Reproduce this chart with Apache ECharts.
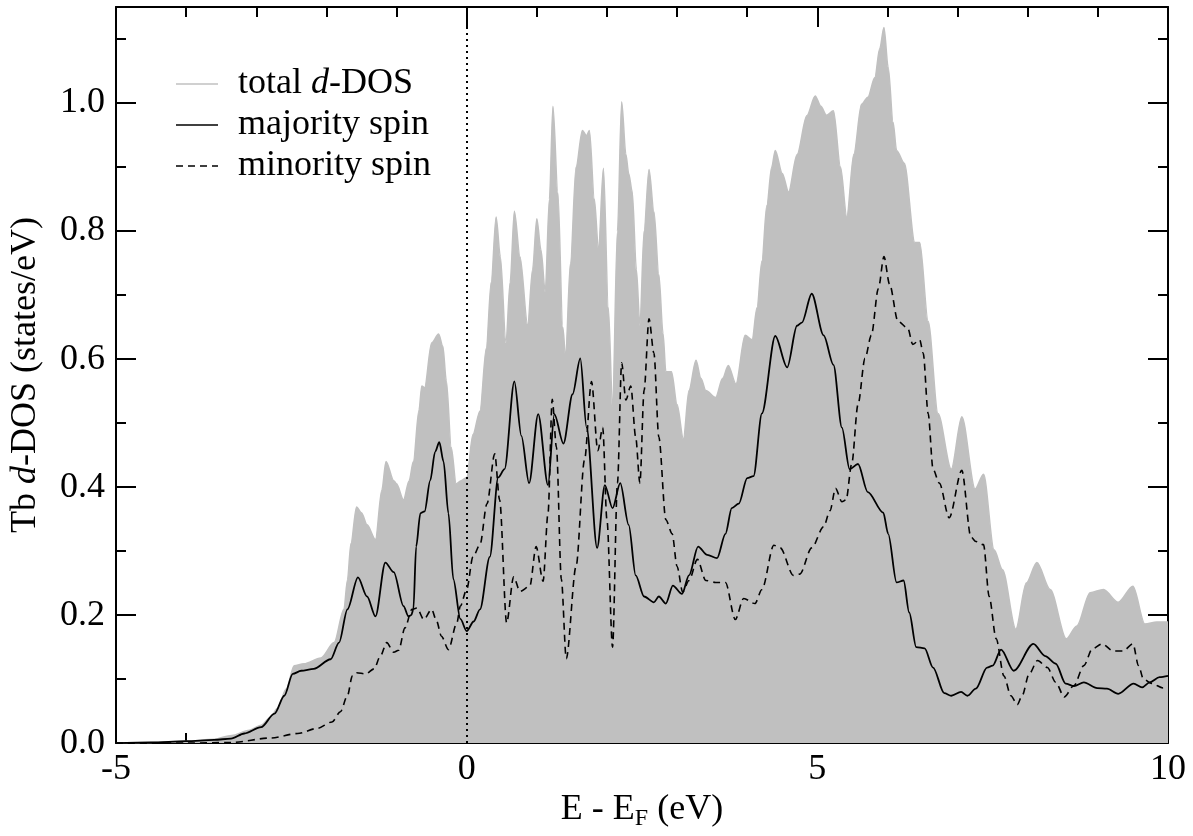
<!DOCTYPE html>
<html>
<head>
<meta charset="utf-8">
<script src="https://cdn.jsdelivr.net/npm/echarts@6/dist/echarts.min.js"></script>
<style>
    html, body { margin: 0; padding: 0; background: #fff; }
    #dos { width: 1193px; height: 836px; }
</style>
</head>
<body>
<div id="dos"></div>
<script>
// Tb d-DOS, [E - E_F (eV), states/eV]
const totalDos = [
    [-5.0, 0.0], [-4.5, 0.001], [-4.0, 0.003], [-3.6, 0.006], [-3.35, 0.012], [-3.1, 0.02],
    [-2.93, 0.028], [-2.8, 0.04], [-2.7, 0.054], [-2.57, 0.085], [-2.46, 0.121], [-2.32, 0.124],
    [-2.08, 0.133], [-1.89, 0.157], [-1.75, 0.209], [-1.7, 0.255], [-1.65, 0.312], [-1.57, 0.369],
    [-1.5, 0.36], [-1.42, 0.341], [-1.3, 0.318], [-1.21, 0.395], [-1.15, 0.44], [-1.04, 0.41],
    [-1.0, 0.405], [-0.9, 0.38], [-0.82, 0.41], [-0.76, 0.44], [-0.68, 0.52], [-0.64, 0.558],
    [-0.6, 0.555], [-0.5, 0.625], [-0.4, 0.639], [-0.34, 0.62], [-0.29, 0.566], [-0.22, 0.462],
    [-0.15, 0.405], [-0.08, 0.41], [0.0, 0.415], [0.09, 0.482], [0.19, 0.519], [0.28, 0.617],
    [0.35, 0.72], [0.42, 0.822], [0.48, 0.76], [0.56, 0.625], [0.62, 0.72], [0.68, 0.831],
    [0.76, 0.76], [0.87, 0.653], [0.94, 0.74], [1.0, 0.819], [1.06, 0.77], [1.12, 0.705],
    [1.18, 0.85], [1.23, 0.995], [1.3, 0.86], [1.37, 0.65], [1.41, 0.605], [1.48, 0.75],
    [1.56, 0.9], [1.65, 0.957], [1.71, 0.949], [1.75, 0.957], [1.82, 0.85], [1.88, 0.771],
    [1.95, 0.898], [2.02, 0.68], [2.08, 0.526], [2.15, 0.8], [2.21, 1.002], [2.27, 0.92],
    [2.31, 0.89], [2.36, 0.862], [2.42, 0.74], [2.47, 0.652], [2.53, 0.8], [2.6, 0.896],
    [2.67, 0.83], [2.74, 0.732], [2.8, 0.64], [2.84, 0.58], [2.92, 0.58], [3.0, 0.529],
    [3.09, 0.475], [3.17, 0.551], [3.27, 0.598], [3.34, 0.57], [3.41, 0.551], [3.55, 0.54],
    [3.65, 0.57], [3.73, 0.59], [3.84, 0.561], [3.97, 0.637], [4.07, 0.63], [4.14, 0.68],
    [4.21, 0.753], [4.28, 0.84], [4.35, 0.9], [4.4, 0.926], [4.5, 0.89], [4.59, 0.861],
    [4.71, 0.919], [4.85, 0.98], [4.97, 1.011], [5.05, 0.995], [5.13, 0.981], [5.23, 0.988],
    [5.33, 0.9], [5.42, 0.822], [5.52, 0.92], [5.63, 0.998], [5.72, 1.009], [5.82, 1.04],
    [5.89, 1.085], [5.95, 1.118], [6.01, 1.056], [6.08, 0.97], [6.13, 0.926], [6.24, 0.906],
    [6.39, 0.782], [6.46, 0.782], [6.58, 0.659], [6.72, 0.515], [6.91, 0.428], [7.06, 0.51],
    [7.25, 0.397], [7.37, 0.42], [7.52, 0.302], [7.64, 0.271], [7.83, 0.178], [7.98, 0.25],
    [8.13, 0.282], [8.32, 0.24], [8.55, 0.163], [8.7, 0.183], [8.89, 0.235], [9.08, 0.24],
    [9.29, 0.22], [9.5, 0.245], [9.67, 0.186], [9.84, 0.189], [10.0, 0.189]
];

const majoritySpin = [
    [-5.0, 0.0], [-4.5, 0.001], [-4.0, 0.003], [-3.6, 0.005], [-3.36, 0.007], [-3.17, 0.015],
    [-2.93, 0.025], [-2.74, 0.046], [-2.6, 0.074], [-2.48, 0.108], [-2.36, 0.113], [-2.18, 0.116],
    [-1.94, 0.131], [-1.82, 0.157], [-1.7, 0.209], [-1.55, 0.259], [-1.42, 0.229], [-1.3, 0.198],
    [-1.16, 0.282], [-1.04, 0.267], [-0.9, 0.214], [-0.83, 0.198], [-0.79, 0.2], [-0.76, 0.209],
    [-0.72, 0.307], [-0.66, 0.359], [-0.6, 0.362], [-0.52, 0.41], [-0.45, 0.455], [-0.39, 0.47],
    [-0.33, 0.44], [-0.26, 0.359], [-0.19, 0.256], [-0.09, 0.194], [0.0, 0.175], [0.1, 0.19],
    [0.19, 0.209], [0.33, 0.291], [0.45, 0.415], [0.54, 0.428], [0.68, 0.565], [0.78, 0.48],
    [0.89, 0.406], [1.02, 0.514], [1.16, 0.403], [1.25, 0.514], [1.38, 0.468], [1.51, 0.545],
    [1.62, 0.601], [1.71, 0.493], [1.86, 0.305], [1.97, 0.403], [2.08, 0.367], [2.19, 0.406],
    [2.31, 0.341], [2.41, 0.262], [2.53, 0.229], [2.67, 0.22], [2.74, 0.229], [2.84, 0.218],
    [2.94, 0.246], [3.07, 0.233], [3.17, 0.262], [3.3, 0.307], [3.43, 0.294], [3.57, 0.289],
    [3.69, 0.327], [3.78, 0.367], [3.88, 0.374], [4.0, 0.414], [4.09, 0.417], [4.21, 0.515],
    [4.4, 0.636], [4.57, 0.587], [4.71, 0.652], [4.78, 0.657], [4.92, 0.702], [5.09, 0.637],
    [5.23, 0.591], [5.35, 0.493], [5.46, 0.428], [5.58, 0.436], [5.72, 0.392], [5.94, 0.36],
    [6.01, 0.327], [6.13, 0.251], [6.23, 0.254], [6.31, 0.204], [6.41, 0.15], [6.53, 0.148],
    [6.65, 0.118], [6.81, 0.078], [6.91, 0.074], [7.05, 0.08], [7.14, 0.074], [7.26, 0.085],
    [7.42, 0.118], [7.5, 0.121], [7.62, 0.146], [7.8, 0.113], [8.08, 0.155], [8.25, 0.136],
    [8.4, 0.124], [8.54, 0.093], [8.66, 0.089], [8.8, 0.095], [8.99, 0.086], [9.13, 0.085],
    [9.29, 0.077], [9.51, 0.093], [9.63, 0.087], [9.74, 0.095], [9.88, 0.103], [10.0, 0.105]
];

const minoritySpin = [
    [-5.0, 0.0], [-4.0, 0.0], [-3.36, 0.001], [-2.79, 0.008], [-2.41, 0.015], [-2.13, 0.023],
    [-1.92, 0.033], [-1.8, 0.049], [-1.7, 0.074], [-1.63, 0.105], [-1.57, 0.11], [-1.44, 0.108],
    [-1.32, 0.116], [-1.23, 0.136], [-1.14, 0.157], [-1.04, 0.142], [-0.97, 0.145], [-0.88, 0.18],
    [-0.78, 0.209], [-0.71, 0.211], [-0.61, 0.193], [-0.5, 0.209], [-0.43, 0.191], [-0.36, 0.167],
    [-0.26, 0.146], [-0.14, 0.188], [-0.09, 0.214], [0.0, 0.24], [0.09, 0.291], [0.19, 0.31],
    [0.29, 0.374], [0.4, 0.452], [0.47, 0.38], [0.57, 0.188], [0.67, 0.26], [0.76, 0.237],
    [0.9, 0.245], [0.99, 0.307], [1.09, 0.253], [1.16, 0.359], [1.22, 0.537], [1.28, 0.462],
    [1.35, 0.256], [1.42, 0.132], [1.56, 0.276], [1.68, 0.442], [1.78, 0.565], [1.87, 0.457],
    [1.94, 0.493], [2.0, 0.349], [2.08, 0.15], [2.15, 0.406], [2.21, 0.594], [2.27, 0.536],
    [2.34, 0.558], [2.41, 0.478], [2.47, 0.406], [2.53, 0.551], [2.6, 0.663], [2.67, 0.609],
    [2.74, 0.478], [2.84, 0.349], [2.93, 0.327], [3.0, 0.276], [3.08, 0.236], [3.17, 0.254],
    [3.29, 0.287], [3.41, 0.254], [3.55, 0.251], [3.69, 0.251], [3.83, 0.193], [3.95, 0.226],
    [4.11, 0.218], [4.21, 0.24], [4.38, 0.309], [4.47, 0.305], [4.66, 0.262], [4.75, 0.264],
    [4.92, 0.305], [5.09, 0.338], [5.18, 0.363], [5.26, 0.398], [5.35, 0.377], [5.41, 0.38],
    [5.49, 0.436], [5.58, 0.529], [5.68, 0.601], [5.77, 0.637], [5.87, 0.71], [5.95, 0.76],
    [6.03, 0.717], [6.15, 0.659], [6.29, 0.648], [6.36, 0.623], [6.46, 0.63], [6.51, 0.609],
    [6.58, 0.515], [6.65, 0.428], [6.74, 0.406], [6.88, 0.352], [7.06, 0.426], [7.19, 0.322],
    [7.26, 0.315], [7.37, 0.31], [7.45, 0.229], [7.55, 0.163], [7.66, 0.105], [7.76, 0.074],
    [7.85, 0.06], [7.92, 0.074], [8.02, 0.108], [8.14, 0.129], [8.28, 0.118], [8.4, 0.095],
    [8.52, 0.072], [8.66, 0.09], [8.8, 0.121], [8.92, 0.147], [9.06, 0.155], [9.22, 0.144],
    [9.36, 0.144], [9.5, 0.155], [9.58, 0.121], [9.65, 0.1], [9.77, 0.093], [9.93, 0.086],
    [10.0, 0.085]
];

const seriesNames = ['total d-DOS', 'majority spin', 'minority spin'];
const xRange = [-5, 10];
const yRange = [0, 1.15];

const FONT = '"Liberation Serif", "DejaVu Serif", serif';
const txt = { fontFamily: FONT, fontSize: 36, color: '#000' };
const txtItalic = Object.assign({}, txt, { fontStyle: 'italic' });

// legend samples: thin solid bar / four dashes
const solidIcon = 'path://M0,0 H42 V1.6 H0 Z';
const dashIcon = 'path://M0,0 H7 V1.6 H0 Z M12,0 H19 V1.6 H12 Z M24,0 H31 V1.6 H24 Z M36,0 H42 V1.6 H36 Z';

// one helper so the four frame sides look the same
const frameAxis = (position, step, len, withLine) => ({
    type: 'value',
    position: position,
    min: yRange[0],
    max: yRange[1],
    interval: step,
    splitLine: { show: false },
    axisLine: { show: withLine, onZero: false, lineStyle: { color: '#000', width: 2 } },
    axisTick: { show: true, inside: true, length: len, lineStyle: { color: '#000', width: 2 } },
    axisLabel: { show: false }
});

const chart = echarts.init(document.getElementById('dos'), null, { renderer: 'canvas' });

const yLeft = frameAxis('left', 0.2, 20, true);
yLeft.axisLabel = Object.assign({}, txt, {
    show: true, showMaxLabel: false, margin: 11,
    formatter: v => v.toFixed(1)
});
yLeft.name = '{n|Tb }{i|d}{n|-DOS (states/eV)}';
yLeft.nameLocation = 'middle';
yLeft.nameRotate = 90;
yLeft.nameGap = 72;
yLeft.nameTextStyle = Object.assign({}, txt, { rich: { n: txt, i: txtItalic } });

const xBottom = {
    type: 'value',
    position: 'bottom',
    min: xRange[0],
    max: xRange[1],
    interval: 5,
    splitLine: { show: false },
    axisLine: { show: true, onZero: false, lineStyle: { color: '#000', width: 2 } },
    axisTick: { show: true, inside: true, length: 20, lineStyle: { color: '#000', width: 2 } },
    minorTick: { show: true, splitNumber: 5, length: 10, lineStyle: { color: '#000', width: 2 } },
    axisLabel: Object.assign({}, txt, { margin: 8, formatter: v => String(v) }),
    name: '{n|E - E}{s|F}{n| (eV)}',
    nameLocation: 'middle',
    nameGap: 45,
    nameTextStyle: Object.assign({}, txt, {
        rich: {
            n: txt,
            s: Object.assign({}, txt, { fontSize: 24, padding: [18, 0, 0, 0] })
        }
    })
};
const xTop = Object.assign({}, xBottom, {
    position: 'top',
    axisLabel: { show: false },
    name: ''
});

const option = {
    animation: false,
    backgroundColor: '#fff',
    textStyle: { fontFamily: FONT },
    grid: { left: 111, right: 25, top: 7, bottom: 88 },
    legend: {
        orient: 'vertical',
        left: 176,
        top: 66,
        padding: 0,
        itemWidth: 42,
        itemHeight: 14,
        itemGap: 5,
        data: [
            { name: seriesNames[0], icon: solidIcon },
            { name: seriesNames[1], icon: solidIcon },
            { name: seriesNames[2], icon: dashIcon }
        ],
        formatter: name => name === seriesNames[0]
            ? '{n|total }{i|d}{n|-DOS}'
            : '{n|' + name + '}',
        textStyle: Object.assign({}, txt, {
            padding: [0, 0, 0, 15],
            rich: {
                n: Object.assign({}, txt, { lineHeight: 36 }),
                i: Object.assign({}, txtItalic, { lineHeight: 36 })
            }
        })
    },
    xAxis: [xBottom, xTop],
    yAxis: [
        yLeft,
        frameAxis('left', 0.1, 10, false),
        frameAxis('right', 0.2, 20, true),
        frameAxis('right', 0.1, 10, false)
    ],
    series: [
        {
            name: seriesNames[0],
            type: 'line',
            data: totalDos,
            symbol: 'none',
            smooth: 0.3,
            smoothMonotone: 'x',
            lineStyle: { color: '#c0c0c0', width: 1.5 },
            itemStyle: { color: '#c0c0c0' },
            areaStyle: { color: '#c0c0c0', opacity: 1 },
            z: 1
        },
        {
            name: seriesNames[1],
            type: 'line',
            data: majoritySpin,
            symbol: 'none',
            smooth: 0.3,
            smoothMonotone: 'x',
            lineStyle: { color: '#000', width: 1.8 },
            itemStyle: { color: '#000' },
            z: 3
        },
        {
            name: seriesNames[2],
            type: 'line',
            data: minoritySpin,
            symbol: 'none',
            smooth: 0.3,
            smoothMonotone: 'x',
            lineStyle: { color: '#000', width: 1.6, type: [7, 5] },
            itemStyle: { color: '#000' },
            z: 3,
            // Fermi level
            markLine: {
                silent: true,
                symbol: ['none', 'none'],
                label: { show: false },
                lineStyle: { color: '#000', width: 2, type: [2, 4] },
                data: [{ xAxis: 0 }]
            }
        }
    ]
};

chart.setOption(option);
window.addEventListener('resize', () => {
    chart.resize();
});
</script>
</body>
</html>
